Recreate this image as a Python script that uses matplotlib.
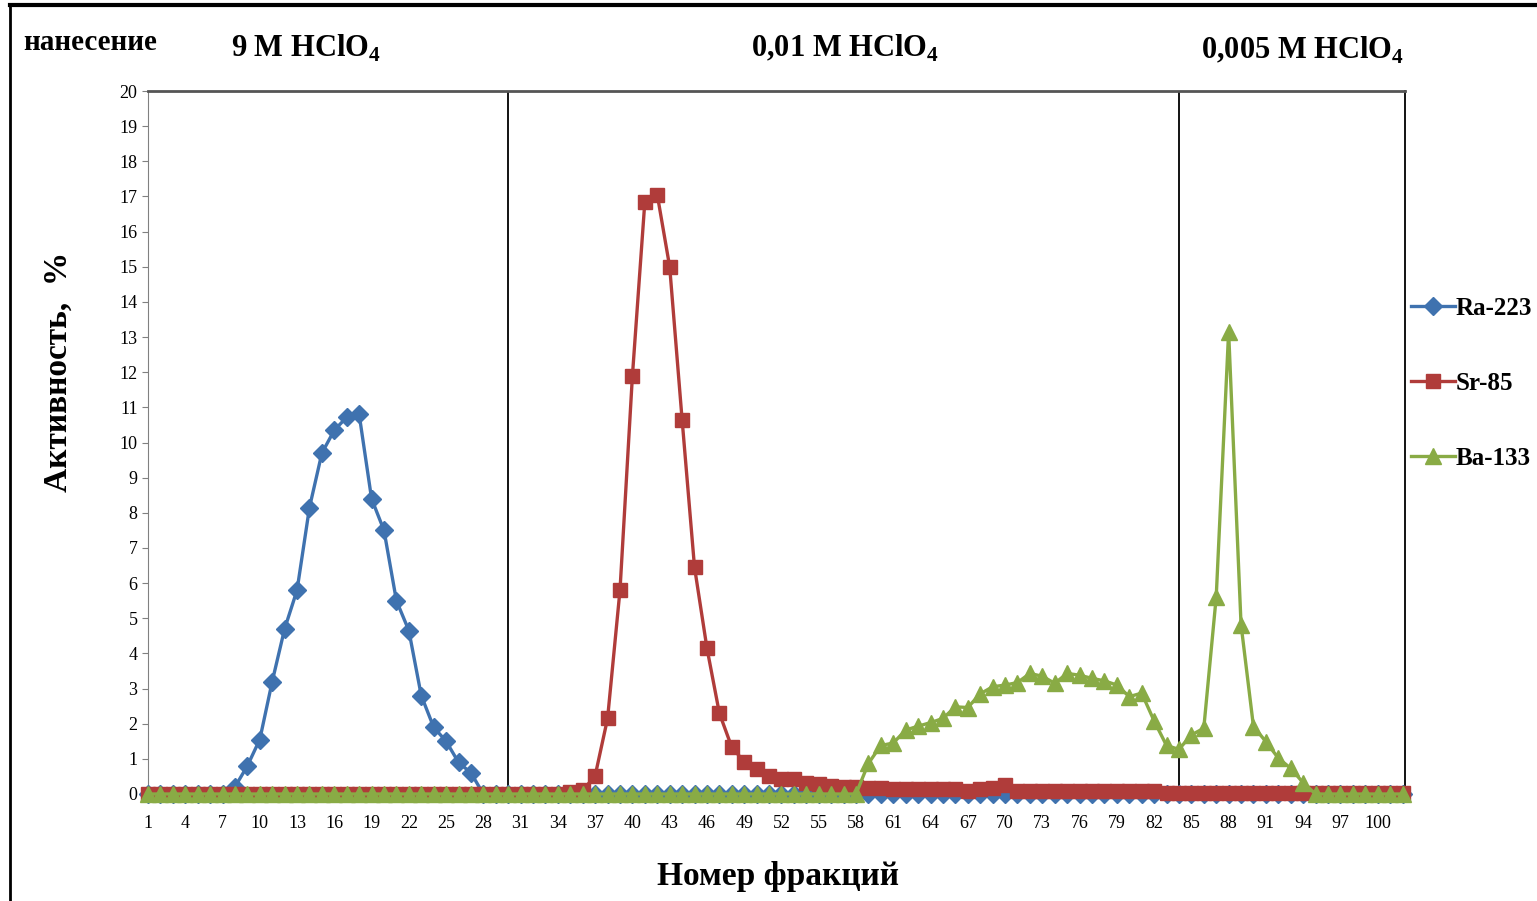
import numpy as np
import matplotlib
matplotlib.use("Agg")
import matplotlib.pyplot as plt
from matplotlib.lines import Line2D

plt.rcParams['font.family'] = ['Liberation Serif', 'DejaVu Serif']
plt.rcParams['mathtext.fontset'] = 'custom'
plt.rcParams['mathtext.rm'] = 'Liberation Serif:bold'
plt.rcParams['mathtext.bf'] = 'Liberation Serif:bold'

# номера фракций 1..102
fractions = np.arange(1, 103)

ra223 = [0, 0, 0, 0, 0, 0, 0, 0.2, 0.8, 1.55,
         3.2, 4.7, 5.8, 8.15, 9.7, 10.35, 10.72, 10.8, 8.4, 7.5,
         5.5, 4.65, 2.8, 1.9, 1.5, 0.9, 0.6, 0, 0, 0,
         0, 0, 0, 0, 0, 0, 0, 0, 0, 0,
         0, 0, 0, 0, 0, 0, 0, 0, 0, 0,
         0, 0, 0, 0, 0, 0, 0, 0, 0, 0,
         0, 0, 0, 0, 0, 0, 0, 0, 0, 0,
         0, 0, 0, 0, 0, 0, 0, 0, 0, 0,
         0, 0, 0, 0, 0, 0, 0, 0, 0, 0,
         0, 0, 0, 0, 0, 0, 0, 0, 0, 0,
         0, 0]

sr85 = [0, 0, 0, 0, 0, 0, 0, 0, 0, 0,
        0, 0, 0, 0, 0, 0, 0, 0, 0, 0,
        0, 0, 0, 0, 0, 0, 0, 0, 0, 0,
        0, 0, 0, 0, 0.05, 0.1, 0.52, 2.15, 5.8, 11.9,
        16.85, 17.05, 15.0, 10.65, 6.45, 4.15, 2.3, 1.33, 0.92, 0.7,
        0.5, 0.42, 0.42, 0.3, 0.28, 0.24, 0.21, 0.2, 0.17, 0.16,
        0.15, 0.15, 0.15, 0.15, 0.15, 0.15, 0.08, 0.15, 0.17, 0.25,
        0.08, 0.08, 0.08, 0.08, 0.08, 0.08, 0.08, 0.08, 0.08, 0.08,
        0.08, 0.08, 0.02, 0.02, 0.02, 0.02, 0.02, 0.02, 0.02, 0.02,
        0.02, 0.02, 0.02, 0.02, 0.02, 0.02, 0.02, 0.02, 0.02, 0.02,
        0.02, 0.02]

ba133 = [0, 0, 0, 0, 0, 0, 0, 0, 0, 0,
         0, 0, 0, 0, 0, 0, 0, 0, 0, 0,
         0, 0, 0, 0, 0, 0, 0, 0, 0, 0,
         0, 0, 0, 0, 0, 0, 0, 0, 0, 0,
         0, 0, 0, 0, 0, 0, 0, 0, 0, 0,
         0, 0, 0, 0, 0, 0, 0, 0, 0.87, 1.38,
         1.45, 1.82, 1.93, 2.03, 2.15, 2.48, 2.46, 2.85, 3.05, 3.1,
         3.17, 3.43, 3.35, 3.15, 3.43, 3.38, 3.29, 3.22, 3.1, 2.77,
         2.87, 2.08, 1.38, 1.27, 1.68, 1.87, 5.6, 13.15, 4.82, 1.92,
         1.49, 1.02, 0.73, 0.32, 0, 0, 0, 0, 0, 0,
         0, 0]

# границы смены элюента (номер фракции)
boundaries = [30, 84]
eluents = ["нанесение", "9 M HClO$_4$", "0,01 M HClO$_4$", "0,005 M HClO$_4$"]

fig = plt.figure(figsize=(15.37, 9.01), dpi=100)
ax = fig.add_axes([148/1537, 1 - 794/901, (1405 - 148)/1537, (794 - 91)/901])

ax.plot(fractions, ra223, color='#3f72af', lw=2.4, marker='D', ms=9, clip_on=False, zorder=3, label='Ra-223')
ax.plot(fractions, sr85, color='#b03c3a', lw=2.4, marker='s', ms=9.5, clip_on=False, zorder=4, label='Sr-85')
ax.plot(fractions, ba133, color='#89ab45', lw=2.4, marker='^', ms=11, clip_on=False, zorder=5, label='Ba-133')

for b in boundaries:
    ax.axvline(b, color='black', lw=1.3, zorder=2)

ax.set_xlim(1, 102.2)
ax.set_ylim(0, 20)
ax.set_yticks(np.arange(0, 21, 1))
ax.set_xticks(np.arange(1, 101, 3))
ax.tick_params(axis='both', labelsize=13, length=4, color='#808080')
ax.tick_params(axis='x', pad=11)

for s in ['left', 'bottom']:
    ax.spines[s].set_color('#808080')
ax.spines['top'].set_color('#555555')
ax.spines['top'].set_linewidth(2)
ax.spines['right'].set_color('black')
ax.spines['right'].set_linewidth(1.3)

ax.set_ylabel("Активность,  %", fontsize=24, fontweight='bold')
ax.yaxis.set_label_coords((58 - 148)/1257, (794 - 372)/703)
ax.set_xlabel("Номер фракций", fontsize=24, fontweight='bold')
ax.xaxis.set_label_coords((778 - 148)/1257, -(876 - 794)/703)
ax.xaxis.label.set_va('center')
ax.yaxis.label.set_va('center')

fig.text(90/1537, 1 - 42/901, eluents[0], fontsize=21, fontweight='bold', ha='center', va='center')
fig.text(306/1537, 1 - 48/901, eluents[1], fontsize=22, fontweight='bold', ha='center', va='center')
fig.text(845/1537, 1 - 48/901, eluents[2], fontsize=22, fontweight='bold', ha='center', va='center')
fig.text(1303/1537, 1 - 50/901, eluents[3], fontsize=22, fontweight='bold', ha='center', va='center')

fig.legend(loc='upper left', bbox_to_anchor=(1401/1537, 1 - 287/901), frameon=False,
           prop={'size': 18, 'weight': 'bold'}, labelspacing=2.08, handlelength=1.75,
           handletextpad=0.05, borderaxespad=0)

# рамка рисунка
fig.add_artist(Line2D([10/1537, 1], [1 - 5/901, 1 - 5/901], color='black', lw=3))
fig.add_artist(Line2D([10/1537, 10/1537], [0, 1 - 5/901], color='black', lw=2))

fig.savefig("out.png", dpi=100)
